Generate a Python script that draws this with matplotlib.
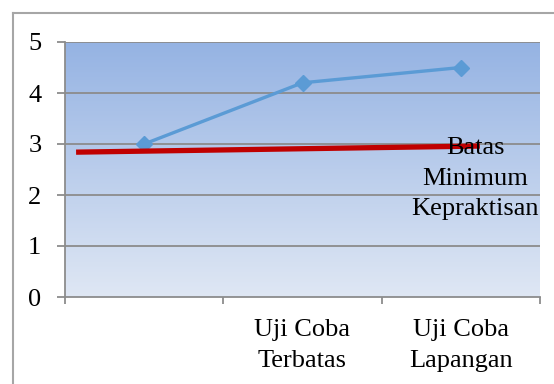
import matplotlib
matplotlib.use('Agg')
import matplotlib.pyplot as plt
from matplotlib.lines import Line2D
import numpy as np

plt.rcParams['font.family'] = ['Liberation Serif', 'DejaVu Serif']

# data
categories = ['', 'Uji Coba\nTerbatas', 'Uji Coba\nLapangan']
scores = [3.0, 4.2, 4.5]
# red "minimum" line, drawn as a free line across the plot
limit_x = [-0.43, 2.12]
limit_y = [2.84, 2.96]
limit_label = 'Batas\nMinimum\nKepraktisan'

fig = plt.figure(figsize=(5.54, 3.84), dpi=100)
ax = fig.add_axes([65 / 554, 1 - 297 / 384, 475 / 554, 255 / 384])

# outer chart frame (only top and left edges are inside the picture)
fx, fy = 12.5 / 554, 1 - 13 / 384
fig.add_artist(Line2D([fx, 1.1], [fy, fy], transform=fig.transFigure,
                      color='#a6a6a6', linewidth=1.5))
fig.add_artist(Line2D([fx, fx], [-0.1, fy], transform=fig.transFigure,
                      color='#a6a6a6', linewidth=1.5))

# gradient plot background
top = np.array([149, 179, 227]) / 255
bottom = np.array([223, 231, 244]) / 255
t = np.linspace(0, 1, 256)[:, None]
grad = (top * (1 - t) + bottom * t)[:, None, :]
ax.imshow(grad, extent=[0, 1, 0, 1], transform=ax.transAxes,
          aspect='auto', zorder=0, interpolation='bilinear')

x = np.arange(len(categories))
ax.set_xlim(-0.5, len(categories) - 0.5)
ax.set_ylim(0, 5)

for yv in range(1, 6):
    ax.axhline(yv, color='#8c8c8c', linewidth=1.3, zorder=1)

ax.plot(x, scores, color='#5b9bd5', linewidth=2.4, marker='D',
        markersize=8.5, zorder=3)
ax.plot(limit_x, limit_y, color='#c00000', linewidth=3.8, zorder=4,
        solid_capstyle='butt')

ax.text(2.09, 2.32, limit_label, ha='center', va='center',
        fontsize=19, linespacing=1.5, zorder=5)

ax.set_yticks(range(0, 6))
ax.tick_params(axis='y', length=6, width=1.3, color='#8c8c8c',
               labelsize=19, pad=11)
ax.set_xticks(np.arange(-0.5, len(categories)), labels=[])
ax.set_xticks(x, labels=categories, minor=True)
ax.tick_params(axis='x', which='major', length=5, width=1.3,
               color='#8c8c8c')
ax.tick_params(axis='x', which='minor', length=0, labelsize=19, pad=16)
for lbl in ax.get_xticklabels(minor=True):
    lbl.set_linespacing(1.5)

for side in ['top', 'right']:
    ax.spines[side].set_visible(False)
for side in ['left', 'bottom']:
    ax.spines[side].set_color('#8c8c8c')
    ax.spines[side].set_linewidth(1.3)

fig.savefig('out.png', dpi=100)
plt.close(fig)
